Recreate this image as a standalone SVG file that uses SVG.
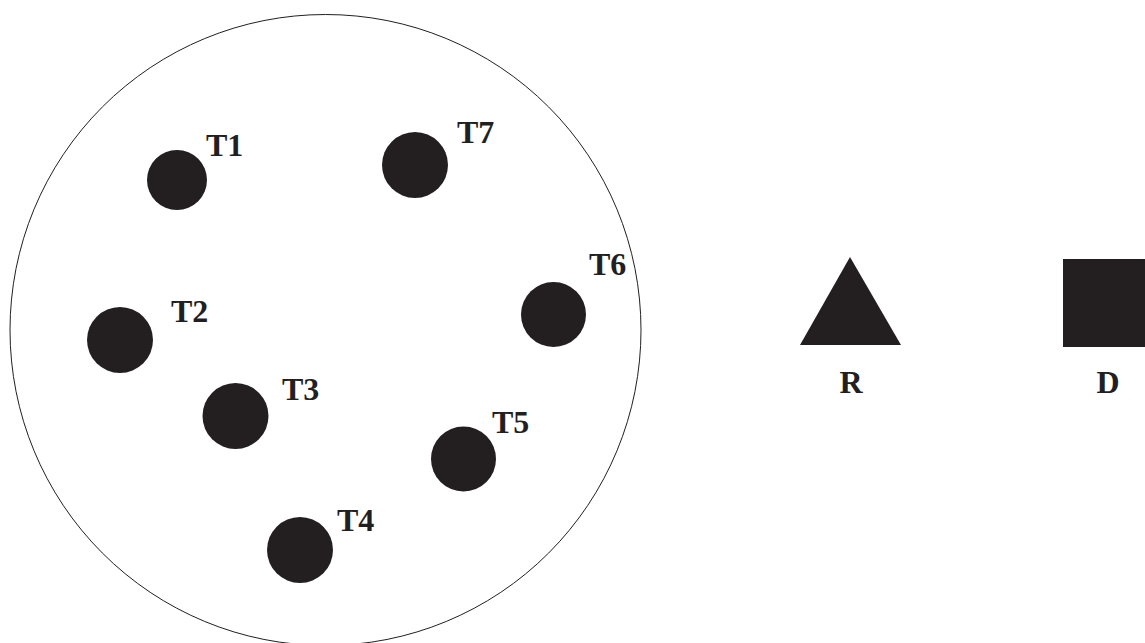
<svg xmlns="http://www.w3.org/2000/svg" width="1145" height="643" viewBox="0 0 1145 643">
<style>
.dot{fill:#231f20}
.lbl{font-family:"Liberation Serif","Times New Roman",serif;font-weight:bold;font-size:32px;fill:#231f20}
</style>
<rect width="1145" height="643" fill="#ffffff"/>
<g id="region"><circle cx="325.5" cy="330" r="315.5" fill="none" stroke="#231f20" stroke-width="1"/></g>
<g id="T1"><circle class="dot" cx="177" cy="180" r="30"/><text class="lbl" x="206" y="156">T1</text></g>
<g id="T7"><circle class="dot" cx="415" cy="165" r="33"/><text class="lbl" x="457" y="143">T7</text></g>
<g id="T6"><circle class="dot" cx="553.5" cy="314.5" r="32.5"/><text class="lbl" x="589" y="275">T6</text></g>
<g id="T2"><circle class="dot" cx="120" cy="340" r="33"/><text class="lbl" x="171" y="322">T2</text></g>
<g id="T3"><circle class="dot" cx="235.5" cy="416" r="33"/><text class="lbl" x="282" y="400">T3</text></g>
<g id="T5"><circle class="dot" cx="463.5" cy="459" r="32.5"/><text class="lbl" x="492" y="433">T5</text></g>
<g id="T4"><circle class="dot" cx="300" cy="550" r="33"/><text class="lbl" x="337" y="531">T4</text></g>
<g id="R"><polygon class="dot" points="850,257 800,345 901,345"/><text class="lbl" x="851" y="393" text-anchor="middle">R</text></g>
<g id="D"><rect class="dot" x="1063" y="259" width="82" height="88"/><text class="lbl" x="1108" y="393" text-anchor="middle">D</text></g>
<g id="connectors"></g>
</svg>
